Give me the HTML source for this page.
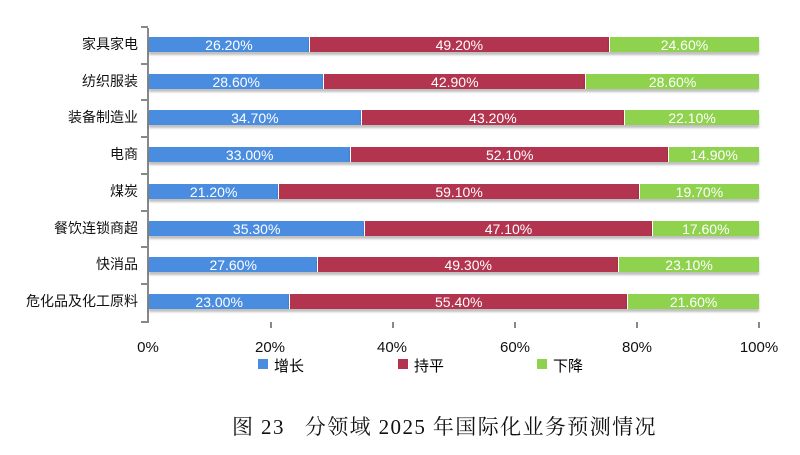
<!DOCTYPE html><html><head><meta charset="utf-8"><style>
body{margin:0;width:800px;height:455px;background:#fff;position:relative;overflow:hidden;font-family:"Liberation Sans","Noto Sans CJK SC",sans-serif}
.a{position:absolute}
.lab{position:absolute;right:662px;font-size:14px;color:#111;white-space:nowrap;line-height:16px}
.bar{position:absolute;height:15px;color:#fff;font-size:14px;line-height:17px;text-align:center;overflow:hidden;box-shadow:0 3px 2px rgba(0,0,0,.25)}
.b{background:#4a8de0}.r{background:#b3344f;border-left:1px solid #fff}.g{background:#8fd24e;border-left:1px solid #fff}
.tk{position:absolute;font-size:15px;color:#111;transform:translateX(-50%);top:339px}
</style></head><body>
<div class="a" style="left:147px;top:28px;width:2px;height:295px;background:#888"></div>
<div id="c"></div>
<div class="tk" style="left:148px">0%</div>
<div class="tk" style="left:270px">20%</div>
<div class="tk" style="left:392px">40%</div>
<div class="tk" style="left:515px">60%</div>
<div class="tk" style="left:637px">80%</div>
<div class="tk" style="left:759px">100%</div>
<div class="a" style="left:258px;top:359px;width:10px;height:10px;background:#4a8de0"></div>
<div class="a" style="left:274px;top:355px;font-size:15px">增长</div>
<div class="a" style="left:398px;top:359px;width:10px;height:10px;background:#b3344f"></div>
<div class="a" style="left:414px;top:355px;font-size:15px">持平</div>
<div class="a" style="left:537px;top:359px;width:10px;height:10px;background:#8fd24e"></div>
<div class="a" style="left:553px;top:355px;font-size:15px">下降</div>
<div class="a" style="left:232px;top:411px;font-size:21px;letter-spacing:1.4px;font-family:'Liberation Serif','Noto Serif CJK SC',serif;color:#111;white-space:nowrap">图 23&nbsp;&nbsp;&nbsp;分领域 2025 年国际化业务预测情况</div>
<script>
var d=[["家具家电",26.2,49.2,24.6],["纺织服装",28.6,42.9,28.6],["装备制造业",34.7,43.2,22.1],["电商",33.0,52.1,14.9],["煤炭",21.2,59.1,19.7],["餐饮连锁商超",35.3,47.1,17.6],["快消品",27.6,49.3,23.1],["危化品及化工原料",23.0,55.4,21.6]];
var h="",x0=149,W=610;
for(var i=0;i<8;i++){var y=Math.round(37+i*36.7),v=d[i];
var w1=W*v[1]/100,w2=W*v[2]/100,w3=W-w1-w2;
h+='<div class="lab" style="top:'+(y-1)+'px">'+v[0]+'</div>';
h+='<div class="a" style="left:141px;top:'+Math.round(y-11)+'px;width:7px;height:2px;background:#888"></div>';
h+='<div class="bar b" style="left:'+x0+'px;top:'+y+'px;width:'+w1+'px">'+v[1].toFixed(2)+'%</div>';
h+='<div class="bar r" style="left:'+(x0+w1)+'px;top:'+y+'px;width:'+(w2-1)+'px">'+v[2].toFixed(2)+'%</div>';
h+='<div class="bar g" style="left:'+(x0+w1+w2)+'px;top:'+y+'px;width:'+(w3-1)+'px">'+v[3].toFixed(2)+'%</div>';}
h+='<div class="a" style="left:141px;top:321px;width:7px;height:2px;background:#888"></div>';
for(var k=1;k<=5;k++)h+='<div class="a" style="left:'+(148+k*122)+'px;top:322px;width:2px;height:6px;background:#888"></div>';
document.getElementById("c").innerHTML=h;
</script></body></html>
